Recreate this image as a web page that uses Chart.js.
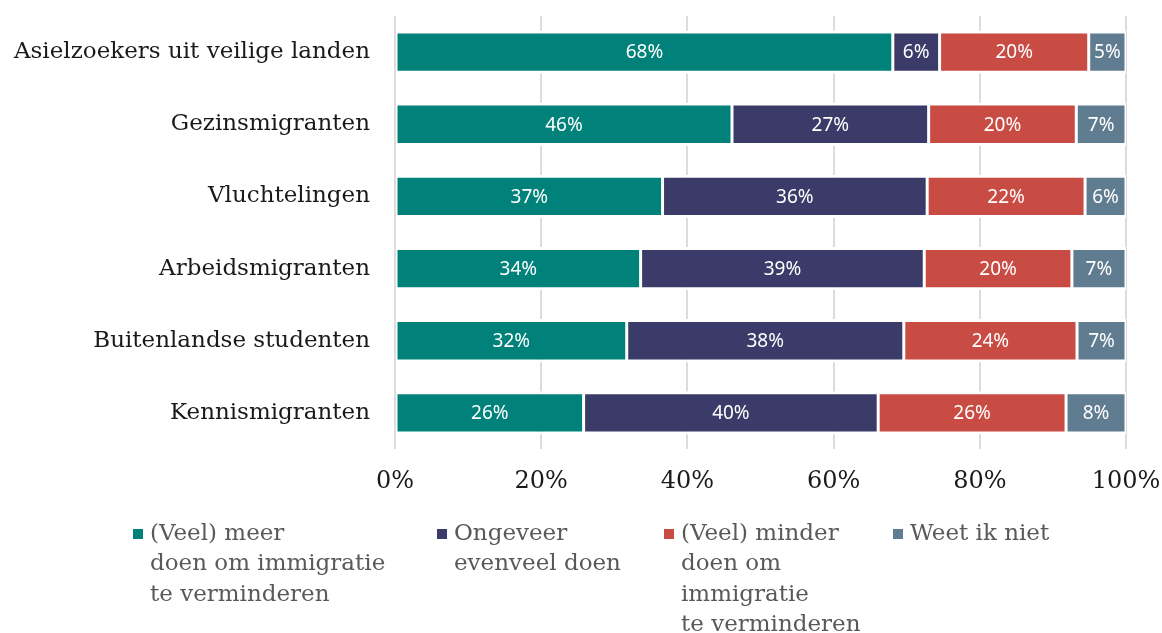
<!DOCTYPE html>
<html><head><meta charset="utf-8">
<script src="https://cdn.jsdelivr.net/npm/chart.js@4"></script>
<style>html,body{margin:0;padding:0;background:#fff;}#wrap{width:1162px;height:633px;position:relative;overflow:hidden;}</style>
</head><body><div id="wrap"><canvas id="c" width="1162" height="633"></canvas></div>
<script>
const categories = ["Asielzoekers uit veilige landen","Gezinsmigranten","Vluchtelingen","Arbeidsmigranten","Buitenlandse studenten","Kennismigranten"];
const meerDoen   = [68.1, 46.1, 36.6, 33.6, 31.7, 25.8];
const evenveel   = [6.4, 26.9, 36.2, 38.8, 37.9, 40.3];
const minderDoen = [20.4, 20.2, 21.6, 20.2, 23.7, 25.7];
const weetNiet   = [5.1, 6.8, 5.6, 7.4, 6.7, 8.2];
const seriesLabels = [
  ["(Veel) meer","doen om immigratie","te verminderen"],
  ["Ongeveer","evenveel doen"],
  ["(Veel) minder","doen om","immigratie","te verminderen"],
  ["Weet ik niet"]
];
const seriesColors = ["#00827a","#3a3b68","#c94c44","#5f7c91"];
const xTickValues = [0,20,40,60,80,100];

const SERIF = "'DejaVu Serif', serif";
const SANS = "'Noto Sans', 'DejaVu Sans', sans-serif";

const barLabels = {
  id: 'barLabels',
  afterDatasetsDraw(chart) {
    const ctx = chart.ctx;
    ctx.save();
    ctx.font = "19px " + SANS;
    ctx.fillStyle = "#ffffff";
    ctx.textAlign = "center";
    ctx.textBaseline = "middle";
    chart.data.datasets.forEach((ds, i) => {
      const meta = chart.getDatasetMeta(i);
      meta.data.forEach((el, j) => {
        const p = el.getProps(['x','y','base'], true);
        ctx.fillText(Math.round(ds.data[j]) + "%", (p.x + p.base) / 2, p.y + 1);
      });
    });
    ctx.restore();
  }
};

const legendXs = [133, 437, 664, 893];
const bottomLegend = {
  id: 'bottomLegend',
  afterDraw(chart) {
    const ctx = chart.ctx;
    ctx.save();
    ctx.font = "23px " + SERIF;
    ctx.textBaseline = "middle";
    ctx.textAlign = "left";
    chart.data.datasets.forEach((ds, i) => {
      const x = legendXs[i];
      const y0 = 534;
      ctx.fillStyle = ds.backgroundColor;
      ctx.fillRect(x, y0 - 5, 10, 10);
      ctx.fillStyle = "#595959";
      ds.label.forEach((line, k) => {
        ctx.fillText(line, x + 17, y0 + k * 30.5);
      });
    });
    ctx.restore();
  }
};

const datasets = [meerDoen, evenveel, minderDoen, weetNiet].map((d, i) => ({
  label: seriesLabels[i],
  data: d,
  backgroundColor: seriesColors[i],
  borderColor: "#ffffff",
  borderWidth: {top: 3, bottom: 3, left: 1.5, right: 1.5},
  borderSkipped: false,
  barPercentage: 0.6,
  categoryPercentage: 1
}));

new Chart(document.getElementById('c'), {
  type: 'bar',
  data: { labels: categories, datasets },
  plugins: [barLabels, bottomLegend],
  options: {
    responsive: false,
    animation: false,
    devicePixelRatio: 1,
    indexAxis: 'y',
    layout: { padding: { top: 16, right: 36, bottom: 134, left: 0 } },
    plugins: { legend: { display: false }, tooltip: { enabled: false } },
    scales: {
      x: {
        stacked: true, min: 0, max: 100,
        afterBuildTicks(s) { s.ticks = xTickValues.map(v => ({ value: v })); },
        afterFit(s) { s.height = 50; s.paddingLeft = 0; s.paddingRight = 0; },
        ticks: { callback: v => v + "%", font: { family: SERIF, size: 24 }, color: "#1a1a1a", padding: 18 },
        grid: { color: "#dcdcdc", lineWidth: 2, drawTicks: false },
        border: { display: false }
      },
      y: {
        stacked: true,
        afterFit(s) { s.width = 395; s.paddingTop = 0; s.paddingBottom = 0; },
        ticks: { font: { family: SERIF, size: 23 }, color: "#1a1a1a", padding: 25 },
        grid: { display: false, drawTicks: false },
        border: { display: false }
      }
    }
  }
});
</script></body></html>
